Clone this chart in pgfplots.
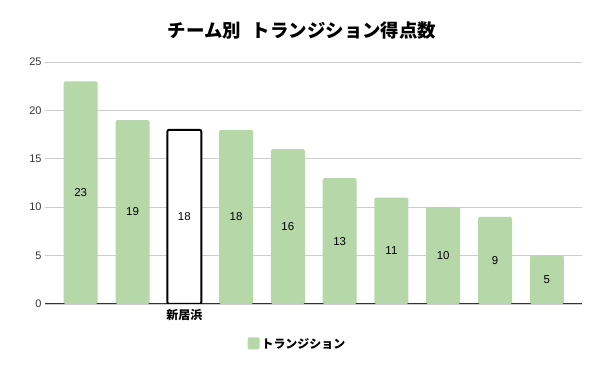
\documentclass[border=0pt]{standalone}
\usepackage{fontspec}
\setmainfont{Liberation Sans}
\newfontfamily\cjk{Noto Sans CJK JP}
\usepackage{pgfplots}
\pgfplotsset{compat=1.18}
\definecolor{barg}{HTML}{B6D7A8}
\definecolor{gridc}{HTML}{CCCCCC}
\definecolor{axisc}{HTML}{333333}
\begin{document}
\begin{tikzpicture}
\useasboundingbox (0,0) rectangle (600bp,371bp);
\node[font=\cjk\bfseries\fontsize{18.5}{21}\selectfont, inner sep=0pt] at (302bp,340bp) {チーム別\hspace{0.6em}トランジション得点数};
\begin{axis}[
  at={(45bp,67bp)}, anchor=south west,
  scale only axis, width=537bp, height=242bp,
  xmin=-0.69, xmax=9.68, ymin=0, ymax=25,
  ytick={0,5,10,15,20,25},
  xtick={0,...,9},
  xticklabels={,,新居浜,,,,,,,},
  xticklabel style={font=\cjk\bfseries\fontsize{12}{14}\selectfont, yshift=-2bp},
  yticklabel style={font=\fontsize{11}{13}\selectfont, text=black!80},
  /pgf/number format/assume math mode=true,
  major tick length=0pt,
  ymajorgrids, grid style={gridc, line width=0.8bp},
  axis x line*=bottom,
  axis y line*=left,
  y axis line style={draw=none},
  x axis line style={axisc, line width=1bp, -},
  ybar, bar width=34bp, bar shift=0pt,
  visualization depends on={rawy\as\rawy},
  nodes near coords,
  every node near coord/.append style={font=\fontsize{11.5}{13}\selectfont, text=black, anchor=center, shift={(axis direction cs:0,-\rawy/2)}},
  legend style={at={(0.47,-0.165)}, anchor=center, draw=none, font=\cjk\bfseries\fontsize{12}{14}\selectfont, legend cell align=left},
  legend image code/.code={\fill[barg] (0bp,-5.5bp) rectangle (12bp,6.5bp);},
]
\addplot[fill=barg, draw=none, rounded corners=1.5bp] coordinates {(0,23) (1,19) (3,18) (4,16) (5,13) (6,11) (7,10) (8,9) (9,5)};
\addlegendentry{トランジション}
\addplot[fill=white, draw=black, line width=2bp, rounded corners=2bp, forget plot] coordinates {(2,18)};
\end{axis}
\end{tikzpicture}
\end{document}
